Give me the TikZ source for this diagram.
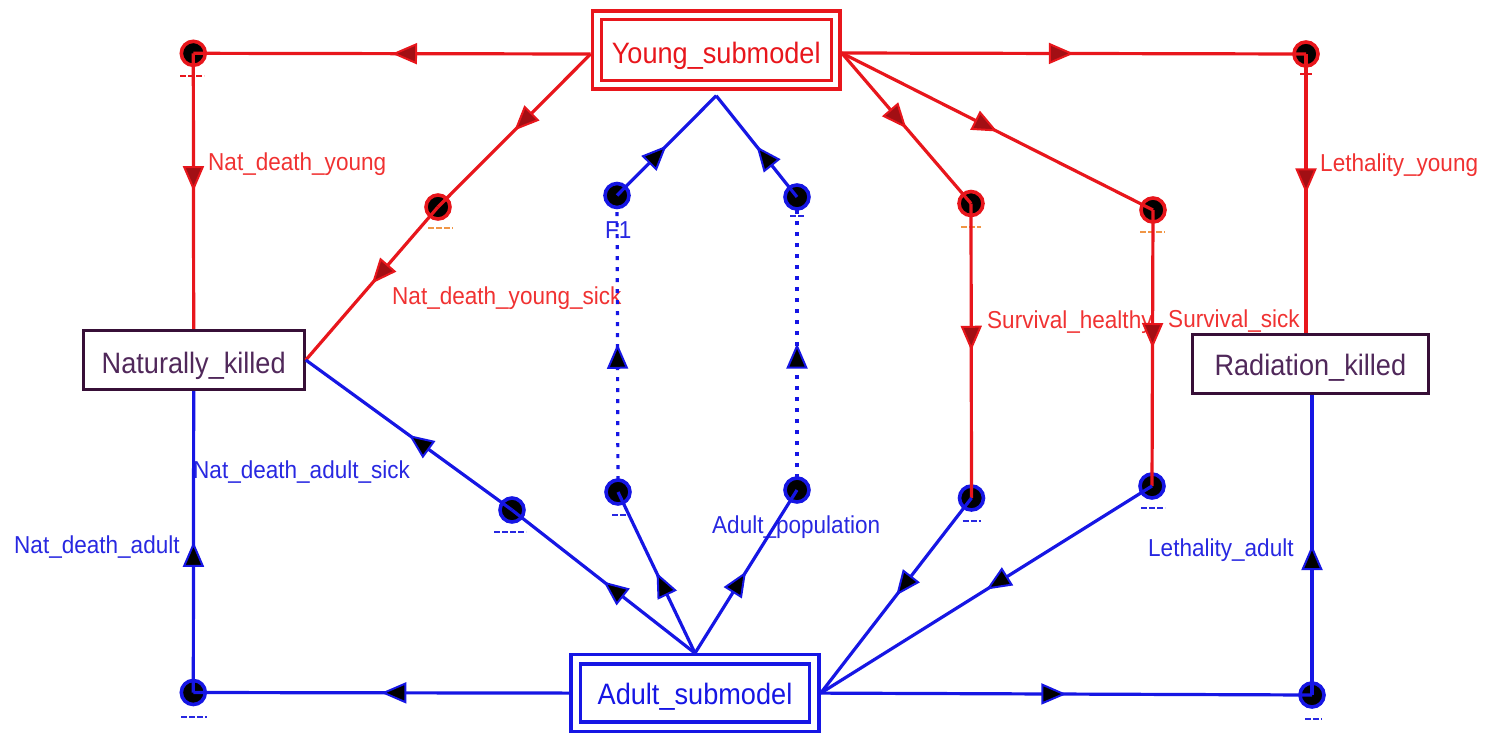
\documentclass[tikz,border=0pt]{standalone}
\usepackage{fontspec}
\setmainfont{Liberation Sans}[FakeStretch=0.92]
\usetikzlibrary{arrows.meta,decorations.markings}
\definecolor{pr}{RGB}{232,22,28}
\definecolor{pb}{RGB}{22,22,228}
\definecolor{lr}{RGB}{240,50,50}
\definecolor{lb}{RGB}{40,40,225}
\definecolor{pk}{RGB}{55,15,55}
\definecolor{pkt}{RGB}{80,40,90}
\definecolor{og}{RGB}{240,150,70}
\newcommand{\boxfont}{\fontsize{29.5}{30}\selectfont}
\newcommand{\lblfont}{\fontsize{24.5}{25}\selectfont}
\begin{document}
\begin{tikzpicture}[x=1pt,y=-1pt,
 marr/.style={postaction={decorate},decoration={markings,mark=at position 0.5 with {\arrow{Triangle[length=25pt,width=21pt,fill=#1,line width=2pt]}}}},
 redarc/.style={draw=pr,line width=3.2pt,marr=pr!70!black},
 bluearc/.style={draw=pb,line width=3.2pt,marr=black},
 dotarc/.style={bluearc,dash pattern=on 4pt off 7pt},
 trans/.style={circle,fill=black,line width=3.6pt,minimum size=24pt,inner sep=0pt,outer sep=0pt},
 rtr/.style={trans,draw=pr},
 btr/.style={trans,draw=pb},
 sub/.style={rectangle,line width=3.3pt,double=white,inner sep=0pt,font=\boxfont,text depth=0pt},
 place/.style={rectangle,draw=pk,line width=3.2pt,inner sep=0pt,outer sep=1.6pt,font=\boxfont,text=pkt,text depth=0pt,minimum height=59pt},
 lbl/.style={anchor=base west,inner sep=0pt,font=\lblfont},
 rl/.style={lbl,text=lr},
 bl/.style={lbl,text=lb},
 tick/.style={line width=2pt,dash pattern=on 6pt off 2pt}
]
\useasboundingbox (0,0) rectangle (1496,734);

% boxes
\node[sub,draw=pr,text=pr,double distance=5.5pt,outer sep=6.05pt,minimum width=238.9pt,minimum height=69.3pt,text height=26.6pt] (young) at (716.2,50) {Young\_submodel};
\node[sub,draw=pb,text=pb,double distance=6pt,outer sep=6.3pt,minimum width=238.8pt,minimum height=67.3pt,text height=22pt] (adult) at (695,693.1) {Adult\_submodel};
\node[place,minimum width=221pt,text height=26.6pt] (nk) at (193.7,360) {Naturally\_killed};
\node[place,minimum width=236.3pt,text height=22pt] (rk) at (1310.35,364) {Radiation\_killed};

% transitions
\node[rtr] (t1) at (193.3,53.3) {};
\node[rtr] (t2) at (438,207) {};
\node[rtr] (t3) at (1306,54) {};
\node[rtr] (t4) at (971,203.5) {};
\node[rtr] (t5) at (1153,210) {};
\node[btr] (b1) at (617,195.5) {};
\node[btr] (b2) at (797,197) {};
\node[btr] (b3) at (618,492) {};
\node[btr] (b4) at (797,490) {};
\node[btr] (b5) at (512,510) {};
\node[btr] (b6) at (193.3,692.5) {};
\node[btr] (b7) at (1312,695) {};
\node[btr] (b8) at (971.5,498) {};
\node[btr] (b9) at (1152,486) {};

% labels
\node[rl] (l1) at (208,170) {Nat\_death\_young};
\node[rl] (l2) at (392,304) {Nat\_death\_young\_sick};
\node[bl] (l3) at (605,238) {F1};
\node[rl] (l4) at (987,328) {Survival\_healthy};
\node[rl] (l5) at (1168,327) {Survival\_sick};
\node[rl] (l6) at (1320,171) {Lethality\_young};
\node[bl] (l7) at (193,478) {Nat\_death\_adult\_sick};
\node[bl] (l8) at (14,553) {Nat\_death\_adult};
\node[bl] (l9) at (712,533) {Adult\_population};
\node[bl] (l10) at (1148,556) {Lethality\_adult};

% small marks under transitions
\draw[tick,draw=pr] ([xshift=-13pt,yshift=-23pt]t1.center) -- ++(24,0);
\draw[tick,draw=og] ([xshift=-10pt,yshift=-21pt]t2.center) -- ++(25,0);
\draw[tick,draw=pr] ([xshift=-6pt,yshift=-20pt]t3.center) -- ++(12,0);
\draw[tick,draw=og] ([xshift=-10pt,yshift=-23pt]t4.center) -- ++(20,0);
\draw[tick,draw=og] ([xshift=-13pt,yshift=-22pt]t5.center) -- ++(25,0);
\draw[tick,draw=lb] ([xshift=-7pt,yshift=-19pt]b2.center) -- ++(14,0);
\draw[tick,draw=lb] ([xshift=-6pt,yshift=-23pt]b3.center) -- ++(14,0);
\draw[tick,draw=lb] ([xshift=-18pt,yshift=-22pt]b5.center) -- ++(32,0);
\draw[tick,draw=lb] ([xshift=-12pt,yshift=-24pt]b6.center) -- ++(26,0);
\draw[tick,draw=lb] ([xshift=-7pt,yshift=-24pt]b7.center) -- ++(17,0);
\draw[tick,draw=lb] ([xshift=-9pt,yshift=-23pt]b8.center) -- ++(18,0);
\draw[tick,draw=lb] ([xshift=-11pt,yshift=-22pt]b9.center) -- ++(24,0);

% red arcs
\coordinate (yw) at ([yshift=-4pt]young.west);
\coordinate (ye) at ([yshift=-3pt]young.east);
\draw[redarc] (yw) -- (t1.center);
\draw[redarc] (t1.center) -- (nk.north);
\draw[redarc] (yw) -- (t2.center);
\draw[redarc] (t2.center) -- (nk.east);
\draw[redarc] (ye) -- (t3.center);
\draw[redarc] (t3.center) -- (t3 |- rk.north);
\draw[redarc] (ye) -- (t4.center);
\draw[redarc] (t4.center) -- (b8.center);
\draw[redarc] (ye) -- (t5.center);
\draw[redarc] (t5.center) -- (b9.center);

% blue arcs
\coordinate (apex) at ([yshift=-5pt]young.south);
\draw[bluearc] (b1.center) -- (apex);
\draw[bluearc] (b2.center) -- (apex);
\draw[dotarc] (b3) -- (b1);
\draw[dotarc] (b4) -- (b2);
\draw[bluearc] (adult.north) -- (b3.center);
\draw[bluearc] (adult.north) -- (b4.center);
\draw[bluearc] (adult.north) -- (b5.center);
\draw[bluearc] (b5.center) -- (nk.east);
\draw[bluearc] (adult.west) -- (b6.center);
\draw[bluearc] (b6.center) -- (nk.south);
\draw[bluearc] (adult.east) -- (b7.center);
\draw[bluearc] (b7.center) -- (b7 |- rk.south);
\draw[bluearc] (b8.center) -- (adult.east);
\draw[bluearc] (b9.center) -- (adult.east);
\end{tikzpicture}
\end{document}
